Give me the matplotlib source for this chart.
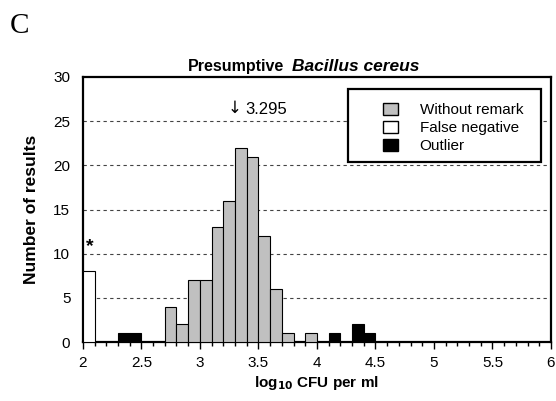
import numpy as np
import matplotlib.pyplot as plt
from matplotlib.patches import Patch, Rectangle
from matplotlib.ticker import MultipleLocator

plt.rcParams['font.family'] = ['Liberation Sans', 'DejaVu Sans']

# bin left edges (log10 CFU per ml), bin width 0.1
bin_width = 0.1
gray_left = [2.7, 2.8, 2.9, 3.0, 3.1, 3.2, 3.3, 3.4, 3.5, 3.6, 3.7, 3.9]
gray_count = [4, 2, 7, 7, 13, 16, 22, 21, 12, 6, 1, 1]
white_left = [2.0]
white_count = [8]
black_left = [2.3, 2.4, 4.1, 4.3, 4.4]
black_count = [1, 1, 1, 2, 1]
median_value = 3.295

fig = plt.figure(figsize=(5.56, 4.01), dpi=100)
ax = fig.add_axes([0.149, 0.147, 0.842, 0.661])

bar_kw = dict(width=bin_width, align='edge', edgecolor='black', linewidth=0.8, zorder=3)
ax.bar(gray_left, gray_count, color='#c0c0c0', **bar_kw)
ax.bar(white_left, white_count, color='white', **bar_kw)
ax.bar(black_left, black_count, color='black', **bar_kw)

ax.set_xlim(2, 6)
ax.set_ylim(0, 30)
ax.xaxis.set_major_locator(MultipleLocator(0.5))
ax.xaxis.set_minor_locator(MultipleLocator(0.1))
ax.yaxis.set_major_locator(MultipleLocator(5))
ax.set_xticklabels([f"{v:g}" for v in ax.get_xticks()])
ax.tick_params(axis='x', which='major', direction='out', length=5, width=1, labelsize=11, pad=5)
ax.tick_params(axis='x', which='minor', direction='out', length=3, width=1)
ax.tick_params(axis='y', length=0, labelsize=11, pad=9)

for y in [5, 10, 15, 20, 25]:
    ax.axhline(y, color='#444444', linestyle=(0, (3, 3)), linewidth=0.8, zorder=1)

for s in ax.spines.values():
    s.set_linewidth(1.6)

ax.set_xlabel(r'log$_{\mathbf{10}}$ CFU per ml', fontsize=11, fontweight='bold', labelpad=3)
ax.set_ylabel('Number of results', fontsize=12.5, fontweight='bold', labelpad=10)
ax.text(0.43, 1.012, 'Presumptive', transform=ax.transAxes, ha='right', va='bottom',
        fontsize=11.5, fontweight='bold')
ax.text(0.447, 1.012, 'Bacillus cereus', transform=ax.transAxes, ha='left', va='bottom',
        fontsize=12.5, fontweight='bold', style='italic')

ax.text(median_value, 25.5, '\u2193', ha='center', va='bottom', fontsize=12,
        family=['DejaVu Sans'], zorder=5)
ax.text(median_value + 0.09, 25.5, '3.295', ha='left', va='bottom', fontsize=12, zorder=5)
ax.text(2.06, 9.9, '*', ha='center', va='bottom', fontsize=14, fontweight='bold', zorder=5)

# legend frame
ax.add_patch(Rectangle((0.566, 0.679), 0.413, 0.276, transform=ax.transAxes,
                       facecolor='white', edgecolor='black', linewidth=1.6, zorder=6))
handles = [Patch(facecolor='#c0c0c0', edgecolor='black', label='Without remark'),
           Patch(facecolor='white', edgecolor='black', label='False negative'),
           Patch(facecolor='black', edgecolor='black', label='Outlier')]
leg = ax.legend(handles=handles, loc='upper left', bbox_to_anchor=(0.641, 0.902),
                fontsize=11, frameon=False,
                handlelength=1.0, handleheight=0.8, handletextpad=1.4,
                borderpad=0, labelspacing=0.25, borderaxespad=0)
leg.set_zorder(7)

fig.text(0.018, 0.918, 'C', fontsize=21, family='Liberation Serif', va='baseline')

fig.savefig('out.png', dpi=100)
